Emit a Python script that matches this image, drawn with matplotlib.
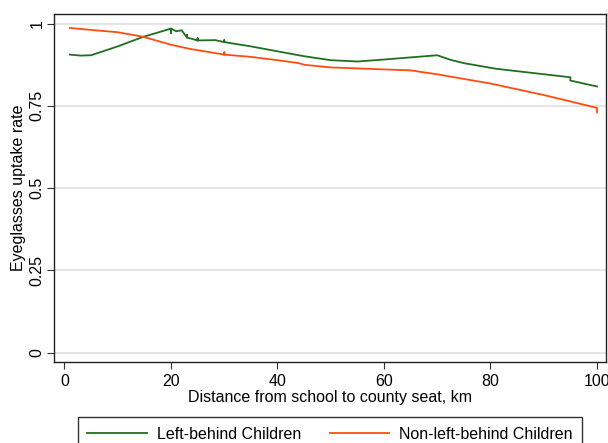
import matplotlib
matplotlib.use("Agg")
import matplotlib.pyplot as plt

plt.rcParams['font.family'] = ['Liberation Sans', 'DejaVu Sans']

# values (distance in km, uptake rate)
left_x = [1, 3, 5, 10, 14.8, 20, 20, 20, 21, 22, 23, 23, 23, 25, 25, 25, 28.3, 30, 30, 30, 35, 40, 45, 50, 55, 60, 70, 72.5, 75, 81, 95, 95, 100]
left_y = [0.906, 0.903, 0.904, 0.931, 0.960, 0.985, 0.972, 0.985, 0.977, 0.980, 0.958, 0.966, 0.958, 0.949, 0.956, 0.949, 0.950, 0.944, 0.950, 0.944, 0.931, 0.916, 0.901, 0.889, 0.885, 0.891, 0.904, 0.890, 0.880, 0.863, 0.837, 0.827, 0.809]

nonleft_x = [1, 5, 10, 14.8, 20, 23.3, 30, 30, 30, 35, 40, 44, 45, 50, 65, 70, 80, 90, 100, 100]
nonleft_y = [0.987, 0.981, 0.974, 0.960, 0.936, 0.924, 0.906, 0.913, 0.906, 0.899, 0.889, 0.880, 0.875, 0.867, 0.858, 0.846, 0.818, 0.783, 0.744, 0.730]

xticks = [0, 20, 40, 60, 80, 100]
yticks = [0, 0.25, 0.5, 0.75, 1]
ytick_labels = ['0', '0.25', '0.5', '0.75', '1']

fig = plt.figure(figsize=(6.08, 4.43), dpi=100)
ax = fig.add_axes([0.0888, 0.1835, 0.908, 0.7853])

ax.plot(left_x, left_y, color='#1f6f1f', lw=1.3, label='Left-behind Children')
ax.plot(nonleft_x, nonleft_y, color='#ff4d12', lw=1.3, label='Non-left-behind Children')

ax.set_xlim(-1.97, 101.7)
ax.set_ylim(-0.028, 1.03)
ax.set_xticks(xticks)
ax.set_yticks(yticks)
ax.set_yticklabels(ytick_labels, rotation=90, va='center')
ax.tick_params(labelsize=11.5, length=5, width=0.8, color='#333333')
ax.tick_params(axis='y', pad=2)
ax.grid(axis='y', color='#e0e0e0', lw=1.2)
ax.set_axisbelow(True)
for s in ax.spines.values():
    s.set_linewidth(1.0)
    s.set_color('#222222')

ax.set_xlabel('Distance from school to county seat, km', fontsize=11.5, labelpad=1)
ax.set_ylabel('Eyeglasses uptake rate', fontsize=11.5, labelpad=2)

leg = fig.legend(loc='upper center', bbox_to_anchor=(0.543, 0.0587), ncol=2,
                 fontsize=11.5, frameon=True, fancybox=False, edgecolor='black',
                 handlelength=3.7, handletextpad=0.65, columnspacing=1.8,
                 borderpad=0.6, borderaxespad=0)
leg.get_frame().set_linewidth(1.0)

fig.savefig('out.png', dpi=100)
